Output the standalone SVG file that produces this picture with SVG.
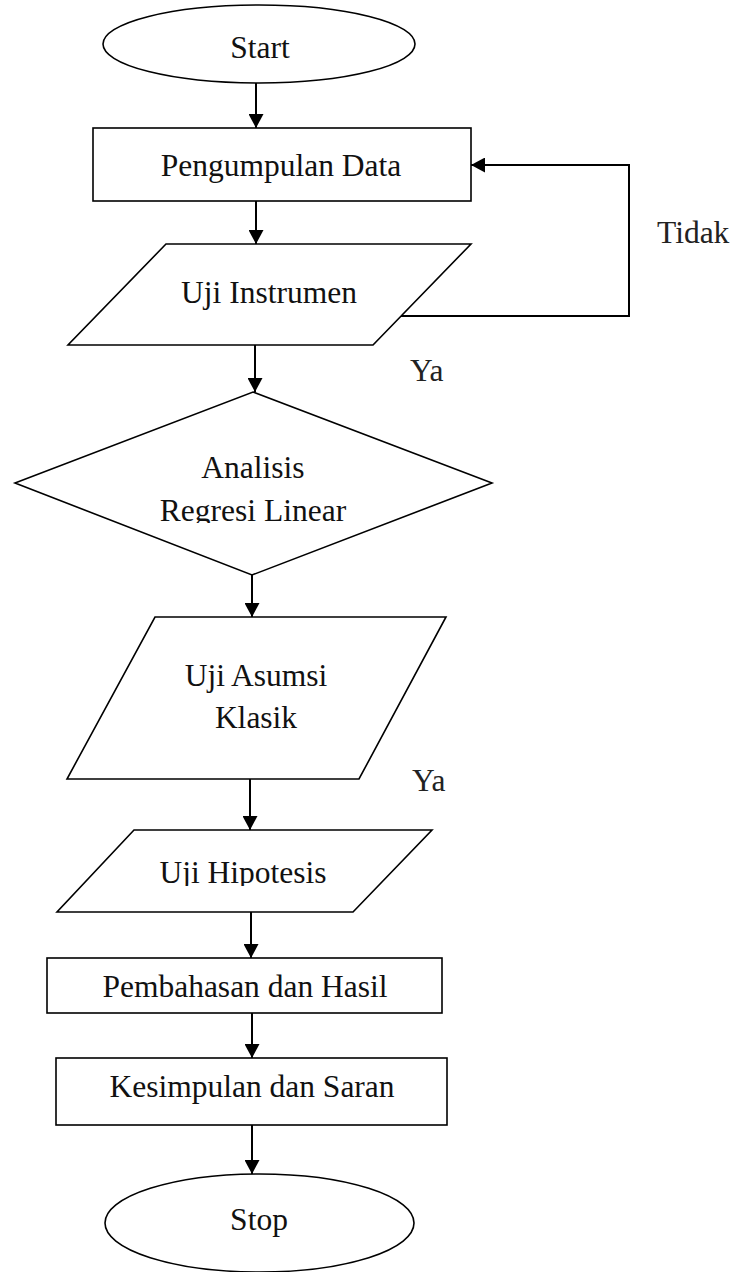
<svg xmlns="http://www.w3.org/2000/svg" width="734" height="1272" viewBox="0 0 734 1272">
<style>
.s{fill:#fff;stroke:#000;stroke-width:1.6}
.t{font-family:"Liberation Serif","Times New Roman",serif;font-size:31.5px;fill:#111;text-anchor:middle}
.l{font-family:"Liberation Serif","Times New Roman",serif;font-size:31.5px;fill:#222}
.c{fill:none;stroke:#000;stroke-width:2}
</style>
<defs>
<marker id="ah" markerWidth="15" markerHeight="15" refX="14" refY="7.5" orient="auto" markerUnits="userSpaceOnUse">
<path d="M0,0 L14,7.5 L0,15 Z" fill="#000"/>
</marker>
<clipPath id="clipReg"><rect x="0" y="380" width="734" height="143"/></clipPath>
<clipPath id="clipHip"><rect x="0" y="830" width="734" height="56"/></clipPath>
</defs>
<rect width="734" height="1272" fill="#fff"/>
<g id="connectors">
<path class="c" d="M256,83 L256,128" marker-end="url(#ah)"/>
<path class="c" d="M256,201 L256,244" marker-end="url(#ah)"/>
<path class="c" d="M255,345 L255,392" marker-end="url(#ah)"/>
<path class="c" d="M400,316 L629,316 L629,165 L471,165" marker-end="url(#ah)"/>
<path class="c" d="M252,575 L252,617" marker-end="url(#ah)"/>
<path class="c" d="M250,779 L250,830" marker-end="url(#ah)"/>
<path class="c" d="M251,912 L251,958" marker-end="url(#ah)"/>
<path class="c" d="M252,1013 L252,1058" marker-end="url(#ah)"/>
<path class="c" d="M252,1125 L252,1174" marker-end="url(#ah)"/>
</g>
<g id="start">
<ellipse class="s" cx="259" cy="44" rx="156" ry="39"/>
<text class="t" x="260" y="58">Start</text>
</g>
<g id="pengumpulan">
<rect class="s" x="93" y="128" width="378" height="73"/>
<text class="t" x="281" y="176">Pengumpulan Data</text>
</g>
<g id="uji-instrumen">
<polygon class="s" points="166,244 471,244 373,345 68,345"/>
<text class="t" x="269" y="303">Uji Instrumen</text>
</g>
<g id="analisis">
<polygon class="s" points="253,392 492,483 252,575 15,483"/>
<text class="t" x="253" y="478">Analisis</text>
<text class="t" x="253" y="521" clip-path="url(#clipReg)">Regresi Linear</text>
</g>
<g id="uji-asumsi">
<polygon class="s" points="155,617 446,617 359,779 67,779"/>
<text class="t" x="256" y="686">Uji Asumsi</text>
<text class="t" x="256" y="728">Klasik</text>
</g>
<g id="uji-hipotesis">
<polygon class="s" points="134,830 432,830 353,912 57,912"/>
<text class="t" x="243" y="883" clip-path="url(#clipHip)">Uji Hipotesis</text>
</g>
<g id="pembahasan">
<rect class="s" x="47" y="958" width="395" height="55"/>
<text class="t" x="245" y="997">Pembahasan dan Hasil</text>
</g>
<g id="kesimpulan">
<rect class="s" x="56" y="1058" width="391" height="67"/>
<text class="t" x="252" y="1097">Kesimpulan dan Saran</text>
</g>
<g id="stop">
<ellipse class="s" cx="259.5" cy="1223" rx="154.5" ry="49"/>
<text class="t" x="259" y="1230">Stop</text>
</g>
<g id="labels">
<text class="l" x="657" y="243">Tidak</text>
<text class="l" x="410" y="381">Ya</text>
<text class="l" x="412" y="791">Ya</text>
</g>
</svg>
